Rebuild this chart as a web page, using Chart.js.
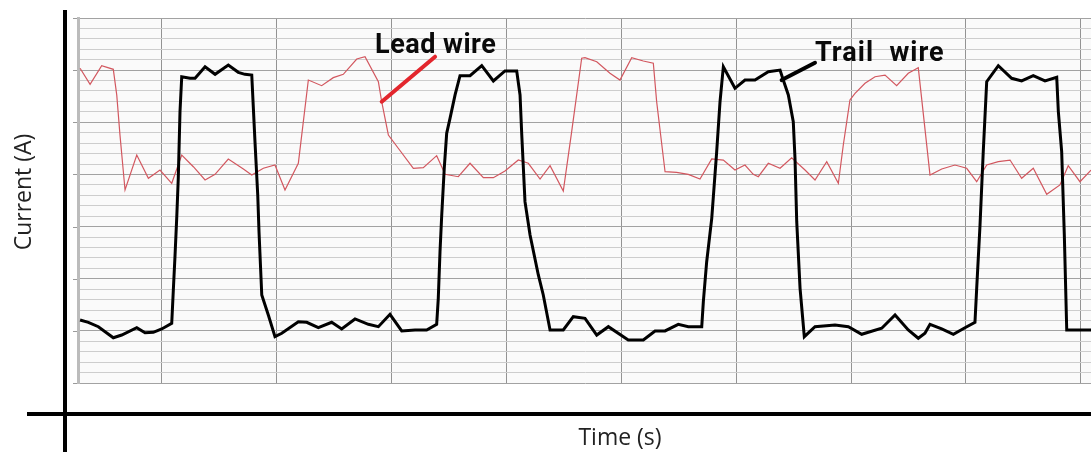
<!DOCTYPE html>
<html>
<head>
<meta charset="utf-8">
<script src="https://cdn.jsdelivr.net/npm/chart.js@4.4.1/dist/chart.umd.min.js"></script>
<style>
  html, body { margin: 0; padding: 0; background: #fff; }
  #wrap { width: 1091px; height: 452px; }
</style>
</head>
<body>
<div id="wrap"><canvas id="currentChart" width="1091" height="452"></canvas></div>
<script>
// trail wire (black) - time in s, current
const trailTime = [0.296, 0.368, 0.455, 0.585, 0.658, 0.789, 0.861, 0.933, 1.006, 1.093,
  1.107, 1.122, 1.137, 1.150, 1.165, 1.180, 1.252, 1.296, 1.383, 1.470,
  1.585, 1.672, 1.730, 1.789, 1.803, 1.817, 1.841, 1.852, 1.876, 1.933,
  1.991, 2.050, 2.194, 2.267, 2.368, 2.484, 2.571, 2.687, 2.803, 2.890,
  2.991, 3.093, 3.209, 3.310, 3.397, 3.411, 3.426, 3.441, 3.463, 3.484,
  3.513, 3.557, 3.600, 3.687, 3.789, 3.890, 3.991, 4.093, 4.122, 4.137,
  4.165, 4.209, 4.281, 4.324, 4.383, 4.498, 4.585, 4.687, 4.789, 4.890,
  5.063, 5.194, 5.296, 5.383, 5.498, 5.585, 5.702, 5.716, 5.745, 5.789,
  5.832, 5.861, 5.890, 5.991, 6.078, 6.165, 6.281, 6.383, 6.411, 6.455,
  6.498, 6.513, 6.528, 6.557, 6.594, 6.687, 6.861, 6.977, 7.093, 7.267,
  7.383, 7.498, 7.585, 7.643, 7.687, 7.789, 7.890, 7.991, 8.078, 8.093,
  8.122, 8.150, 8.180, 8.281, 8.397, 8.484, 8.585, 8.687, 8.789, 8.803,
  8.832, 8.855, 8.876, 9.087];
const trailCurrent = [60.4, 58.2, 54.0, 43.4, 46.0, 53.0, 48.2, 48.6, 51.8, 57.2,
  89.2, 122.7, 159.5, 196.3, 260.2, 293.7, 292.2, 292.2, 303.3, 296.0,
  304.9, 297.9, 296.0, 295.3, 263.4, 231.4, 180.3, 145.1, 84.4, 65.2,
  44.4, 47.7, 58.8, 58.2, 53.0, 58.2, 51.8, 61.4, 56.3, 54.0,
  65.9, 49.9, 50.8, 50.8, 56.3, 81.2, 125.9, 161.1, 205.9, 239.4,
  253.8, 276.2, 294.7, 294.7, 304.3, 289.6, 299.2, 299.2, 276.2, 237.8,
  173.9, 141.9, 103.6, 84.4, 50.8, 50.8, 63.6, 62.0, 46.0, 54.0,
  41.2, 41.2, 49.9, 49.9, 56.3, 54.0, 54.0, 78.0, 116.3, 157.9,
  221.8, 269.7, 303.3, 282.6, 290.5, 290.5, 298.5, 300.1, 290.5, 276.2,
  250.6, 215.5, 154.7, 90.8, 44.4, 54.0, 55.6, 54.0, 46.7, 52.5,
  65.2, 50.8, 42.9, 47.7, 56.3, 51.8, 46.7, 53.0, 58.2, 90.8,
  151.5, 221.8, 288.9, 304.3, 292.2, 289.6, 294.7, 289.6, 293.1, 260.2,
  221.8, 141.9, 50.8, 50.8];

// lead wire (red)
const leadTime = [0.296, 0.383, 0.484, 0.585, 0.615, 0.643, 0.687, 0.789, 0.890, 0.991,
  1.093, 1.180, 1.281, 1.383, 1.470, 1.585, 1.716, 1.789, 1.890, 1.991,
  2.078, 2.194, 2.281, 2.397, 2.498, 2.585, 2.702, 2.774, 2.890, 2.919,
  2.977, 3.063, 3.194, 3.281, 3.397, 3.470, 3.585, 3.687, 3.803, 3.890,
  3.991, 4.107, 4.194, 4.296, 4.383, 4.498, 4.571, 4.658, 4.687, 4.789,
  4.904, 4.991, 5.093, 5.194, 5.281, 5.310, 5.383, 5.483, 5.585, 5.687,
  5.789, 5.890, 5.991, 6.078, 6.150, 6.194, 6.281, 6.383, 6.484, 6.600,
  6.687, 6.789, 6.890, 6.933, 6.991, 7.035, 7.122, 7.209, 7.296, 7.397,
  7.498, 7.585, 7.687, 7.789, 7.904, 8.006, 8.093, 8.180, 8.281, 8.383,
  8.484, 8.585, 8.702, 8.817, 8.889, 8.991, 9.087];
const leadCurrent = [301.8, 286.4, 304.3, 300.8, 276.2, 237.8, 185.1, 218.6, 196.3, 204.2,
  191.5, 218.6, 207.4, 194.7, 200.1, 214.8, 205.2, 199.5, 205.9, 209.0,
  185.1, 210.7, 290.5, 285.1, 292.8, 296.0, 310.7, 312.9, 288.9, 269.7,
  237.8, 225.1, 205.9, 206.5, 218.0, 200.1, 197.8, 210.7, 196.9, 196.9,
  203.3, 213.8, 210.7, 195.6, 208.4, 184.1, 241.0, 311.4, 311.9, 308.1,
  297.0, 290.5, 311.9, 308.8, 306.6, 269.7, 202.6, 202.0, 200.1, 195.6,
  214.8, 213.8, 204.2, 209.0, 200.1, 197.8, 210.7, 205.9, 216.0, 204.2,
  194.7, 212.2, 191.5, 228.2, 271.4, 277.8, 287.4, 293.7, 295.3, 285.1,
  297.0, 302.3, 199.5, 205.2, 209.0, 205.9, 193.0, 209.0, 212.2, 213.8,
  196.3, 205.9, 180.9, 189.9, 208.4, 193.0, 204.2];

const gridTimes = [1, 2, 3, 4, 5, 6, 7, 8, 9];

const toPoints = (xs, ys) => xs.map((x, i) => ({ x, y: ys[i] }));

// callouts, anchored in data units (time, current)
const notes = [
  { text: 'Lead wire', color: '#e3262d', spacing: '0.5px', at: [2.861, 316.4], from: [3.383, 312.9], to: [2.919, 269.7] },
  { text: 'Trail  wire', color: '#000', spacing: '1px', at: [6.687, 309.1], from: [6.687, 307.1], to: [6.397, 290.5] }
];

const decor = {
  id: 'decor',
  beforeDraw(chart) {
    const { ctx, chartArea: a } = chart;
    ctx.save();
    ctx.fillStyle = '#fafafa';
    ctx.fillRect(a.left, a.top, a.right - a.left, a.bottom - a.top);
    ctx.restore();
  },
  afterDraw(chart) {
    const { ctx, chartArea: a, scales: { x, y } } = chart;
    ctx.save();

    // little stubs left of the major lines
    ctx.strokeStyle = '#9a9a9a';
    ctx.lineWidth = 1;
    for (let v = 0; v <= 350; v += 50) {
      const py = Math.round(y.getPixelForValue(v)) + 0.5;
      ctx.beginPath(); ctx.moveTo(a.left - 5, py); ctx.lineTo(a.left - 1, py); ctx.stroke();
    }

    // the heavy hand-drawn axes
    ctx.strokeStyle = '#000';
    ctx.lineWidth = 4;
    ctx.beginPath(); ctx.moveTo(65, 10); ctx.lineTo(65, 452); ctx.stroke();
    ctx.beginPath(); ctx.moveTo(27, 414); ctx.lineTo(1091, 414); ctx.stroke();

    // axis titles
    ctx.fillStyle = '#222';
    ctx.font = '23px "Open Sans"';
    ctx.textAlign = 'center';
    ctx.textBaseline = 'middle';
    ctx.fillText('Time (s)', 620, 438);
    ctx.save();
    ctx.translate(24, 192);
    ctx.rotate(-Math.PI / 2);
    ctx.fillText('Current (A)', 0, 0);
    ctx.restore();

    // callouts
    notes.forEach(n => {
      ctx.strokeStyle = n.color;
      ctx.lineWidth = 4;
      ctx.lineCap = 'round';
      ctx.beginPath();
      ctx.moveTo(x.getPixelForValue(n.from[0]), y.getPixelForValue(n.from[1]));
      ctx.lineTo(x.getPixelForValue(n.to[0]), y.getPixelForValue(n.to[1]));
      ctx.stroke();
      ctx.fillStyle = '#0a0a0a';
      ctx.font = 'bold 27px Roboto';
      ctx.letterSpacing = n.spacing;
      ctx.textAlign = 'left';
      ctx.textBaseline = 'alphabetic';
      ctx.fillText(n.text, x.getPixelForValue(n.at[0]), y.getPixelForValue(n.at[1]));
      ctx.letterSpacing = '0px';
    });
    ctx.restore();
  }
};

new Chart(document.getElementById('currentChart'), {
  type: 'line',
  data: {
    datasets: [
      {
        label: 'Trail wire',
        data: toPoints(trailTime, trailCurrent),
        borderColor: '#000',
        borderWidth: 3,
        pointRadius: 0,
        tension: 0,
        order: 0
      },
      {
        label: 'Lead wire',
        data: toPoints(leadTime, leadCurrent),
        borderColor: '#d2575f',
        borderWidth: 1.2,
        pointRadius: 0,
        tension: 0,
        order: 1
      }
    ]
  },
  options: {
    responsive: false,
    animation: false,
    devicePixelRatio: 1,
    layout: { padding: { left: 78, top: 18, right: 0, bottom: 69 } },
    plugins: { legend: { display: false }, tooltip: { enabled: false } },
    scales: {
      x: {
        type: 'linear',
        min: 0.278,
        max: 9.087,
        afterBuildTicks: axis => { axis.ticks = gridTimes.map(v => ({ value: v })); },
        ticks: { display: false },
        grid: { color: '#939393', lineWidth: 1, drawTicks: false },
        border: { display: false }
      },
      y: {
        min: 0,
        max: 350,
        ticks: { display: false, stepSize: 10 },
        grid: {
          drawTicks: false,
          lineWidth: 1,
          color: c => (c.tick.value % 50 === 0 ? '#a2a2a2' : '#cdcdcd')
        },
        border: { display: true, color: '#bcbcbc', width: 3 }
      }
    }
  },
  plugins: [decor]
});
</script>
</body>
</html>
